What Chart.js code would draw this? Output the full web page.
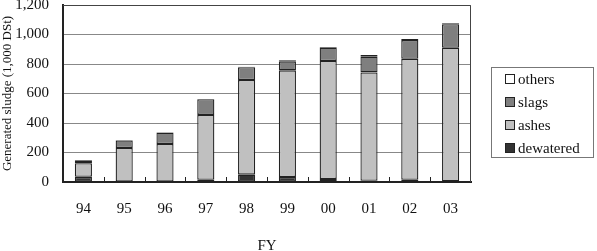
<!DOCTYPE html>
<html lang="en">
<head>
    <meta charset="UTF-8">
    <title>Generated sludge by FY</title>
    <script src="https://cdn.jsdelivr.net/npm/chart.js"></script>
    <style>
        html, body { margin: 0; padding: 0; background: #fff; }
        #wrap { width: 597px; height: 251px; }
    </style>
</head>
<body>
    <div id="wrap"><canvas id="chart" width="597" height="251"></canvas></div>

    <script>
        // fiscal years
        const years = ['94', '95', '96', '97', '98', '99', '00', '01', '02', '03'];

        // sludge amounts (1,000 DSt)
        const dewatered = [35, 3, 3, 15, 50, 34, 20, 8, 15, 5];
        const ashes     = [92, 228, 255, 440, 642, 723, 800, 735, 820, 905];
        const slags     = [17, 50, 76, 106, 86, 61, 90, 106, 127, 160];
        const others    = [5, 3, 3, 2, 4, 7, 5, 12, 7, 6];

        const serif = "'Liberation Serif', 'Times New Roman', serif";

        // frame, small tick marks between categories and the boxed legend
        const extras = {
            id: 'extras',
            afterDraw(chart) {
                const ctx = chart.ctx;
                const a = chart.chartArea;
                const x = chart.scales.x;
                ctx.save();
                ctx.strokeStyle = '#444';
                ctx.lineWidth = 1;
                ctx.beginPath();
                ctx.moveTo(a.left, a.top + 0.5);
                ctx.lineTo(a.right - 0.5, a.top + 0.5);
                ctx.lineTo(a.right - 0.5, a.bottom);
                ctx.stroke();

                ctx.strokeStyle = '#222';
                const step = x.getPixelForValue(1) - x.getPixelForValue(0);
                for (let i = 1; i < years.length; i++) {
                    const px = Math.round(x.getPixelForValue(i) - step / 2) + 0.5;
                    ctx.beginPath();
                    ctx.moveTo(px, a.bottom);
                    ctx.lineTo(px, a.bottom - 5);
                    ctx.stroke();
                }

                // legend, top item = top of stack
                ctx.strokeStyle = '#777';
                ctx.strokeRect(491.5, 67.5, 102, 90);
                const sets = chart.data.datasets.slice().reverse();
                ctx.font = '15px ' + serif;
                ctx.textBaseline = 'middle';
                sets.forEach((ds, i) => {
                    const cy = 79 + i * 23;
                    ctx.fillStyle = ds.backgroundColor;
                    ctx.fillRect(505, cy - 5, 10, 10);
                    ctx.strokeStyle = '#222';
                    ctx.strokeRect(505.5, cy - 4.5, 9, 9);
                    ctx.fillStyle = '#111';
                    ctx.fillText(ds.label, 518, cy + 1);
                });
                ctx.restore();
            }
        };

        const barStyle = {
            borderColor: '#222',
            borderWidth: 1.3,
            borderSkipped: false,
            barPercentage: 0.42,
            categoryPercentage: 1
        };

        new Chart(document.getElementById('chart'), {
            type: 'bar',
            data: {
                labels: years,
                datasets: [
                    { label: 'dewatered', data: dewatered, backgroundColor: '#333333', ...barStyle },
                    { label: 'ashes', data: ashes, backgroundColor: '#c0c0c0', ...barStyle },
                    { label: 'slags', data: slags, backgroundColor: '#7f7f7f', ...barStyle },
                    { label: 'others', data: others, backgroundColor: '#ffffff', ...barStyle }
                ]
            },
            options: {
                responsive: false,
                animation: false,
                layout: { padding: { top: 5, right: 126, left: 0, bottom: 0 } },
                plugins: {
                    legend: { display: false },
                    tooltip: { enabled: false }
                },
                scales: {
                    x: {
                        stacked: true,
                        afterFit(s) { s.height = 69; s.paddingLeft = 0; s.paddingRight = 0; },
                        grid: { display: false, drawTicks: false },
                        border: { color: '#222', width: 2 },
                        ticks: { color: '#111', padding: 18, font: { family: serif, size: 15 } },
                        title: {
                            display: true,
                            text: 'FY',
                            color: '#111',
                            padding: { top: 0, bottom: -4 },
                            font: { family: serif, size: 15 }
                        }
                    },
                    y: {
                        stacked: true,
                        min: 0,
                        max: 1200,
                        afterFit(s) { s.width = 63; s.paddingTop = 0; s.paddingBottom = 0; },
                        grid: { color: '#888', lineWidth: 1, drawTicks: false },
                        border: { color: '#222', width: 2 },
                        ticks: {
                            stepSize: 200,
                            color: '#111',
                            padding: 14,
                            font: { family: serif, size: 15 },
                            callback: v => v.toLocaleString('en-US')
                        },
                        title: {
                            display: true,
                            text: 'Generated sludge (1,000 DSt)',
                            color: '#111',
                            padding: { top: 0, bottom: 0 },
                            font: { family: serif, size: 13 }
                        }
                    }
                }
            },
            plugins: [extras]
        });
    </script>
</body>
</html>
